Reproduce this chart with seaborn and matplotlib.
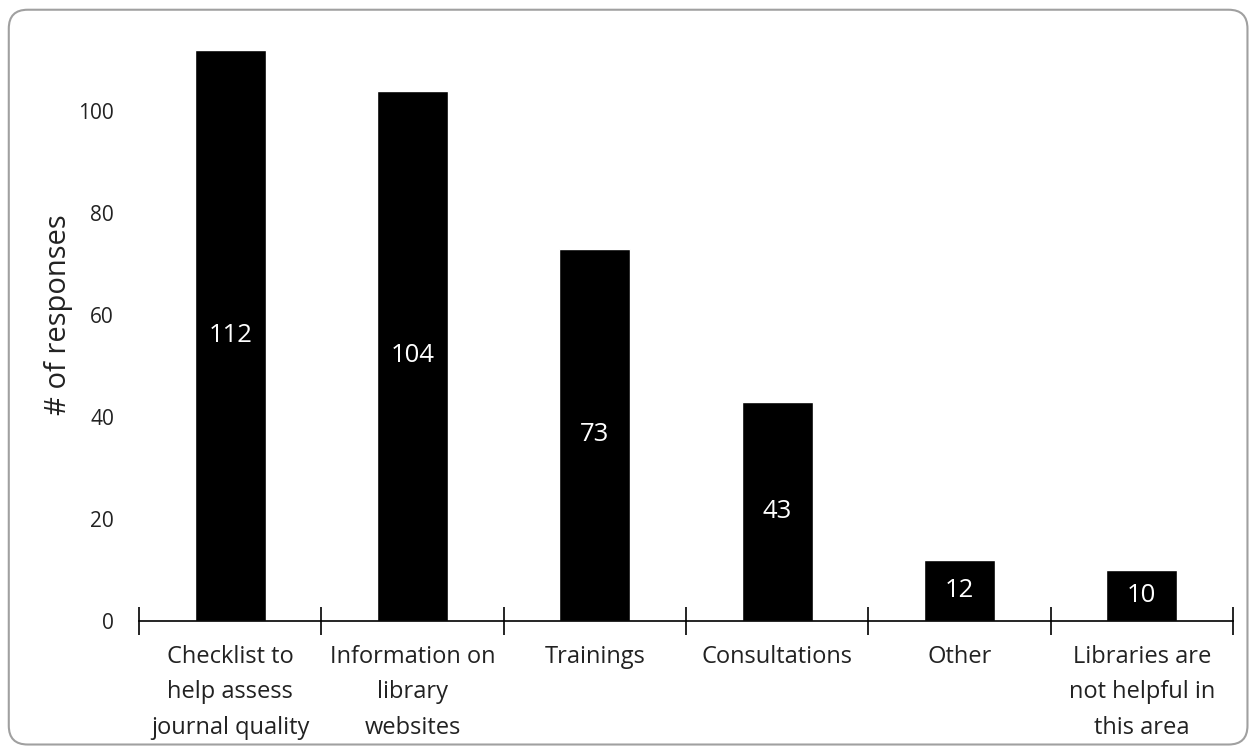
import numpy as np
import pandas as pd
import matplotlib
matplotlib.use("Agg")
import matplotlib.pyplot as plt
import seaborn as sns
from matplotlib.patches import FancyBboxPatch
from matplotlib.ticker import FixedLocator

# dados do gráfico
categorias = ["Checklist to\nhelp assess\njournal quality",
              "Information on\nlibrary\nwebsites",
              "Trainings",
              "Consultations",
              "Other",
              "Libraries are\nnot helpful in\nthis area"]
respostas = [112, 104, 73, 43, 12, 10]
y_ticks = [0, 20, 40, 60, 80, 100]

df = pd.DataFrame({"categoria": categorias, "respostas": respostas})

sns.set_theme(style="white")
plt.rcParams["font.family"] = ["Open Sans", "DejaVu Sans"]

fig = plt.figure(figsize=(12.55, 7.49), dpi=100)
ax = fig.add_axes([0.1108, 0.1709, 0.8717, 0.817])

sns.barplot(data=df, x="categoria", y="respostas", color="black",
            width=0.39, saturation=1, ax=ax)

# rótulos brancos no meio das barras
for c in ax.containers:
    ax.bar_label(c, label_type="center", color="white", fontsize=18.5)

ax.set_ylim(0, 120)
ax.set_xlim(-0.5, len(categorias) - 0.5)
ax.set_yticks(y_ticks)
ax.tick_params(axis="y", length=0, labelsize=15, pad=18, colors="#222222")
ax.tick_params(axis="x", which="major", length=5, direction="out",
               labelsize=17, pad=12, colors="black", labelcolor="#222222")
for lbl in ax.get_xticklabels():
    lbl.set_linespacing(1.65)
ax.xaxis.set_minor_locator(FixedLocator(np.arange(-0.5, len(categorias), 1.0)))
ax.tick_params(axis="x", which="minor", length=20, direction="inout",
               bottom=True, width=1.2, color="black")
ax.set_xlabel("")
ax.set_ylabel("# of responses", fontsize=21, labelpad=4, color="#222222")

for s in ["top", "right", "left"]:
    ax.spines[s].set_visible(False)
ax.spines["bottom"].set_color("black")
ax.spines["bottom"].set_linewidth(1.2)

# borda arredondada em volta da figura
borda = FancyBboxPatch((0.007, 0.006), 0.987, 0.981,
                       boxstyle="round,pad=0,rounding_size=0.015",
                       transform=fig.transFigure, fill=False,
                       edgecolor="#a0a0a0", linewidth=1.5,
                       mutation_aspect=1.675)
fig.patches.append(borda)

fig.savefig("out.png", dpi=100)
